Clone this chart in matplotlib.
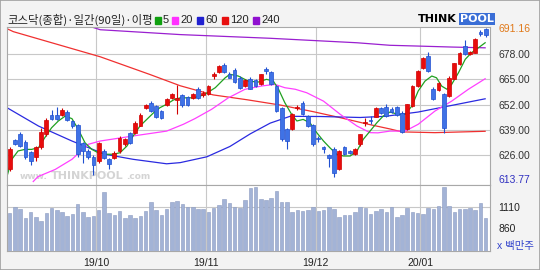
import matplotlib
matplotlib.use("Agg")
import matplotlib.pyplot as plt
import numpy as np
from matplotlib.patches import Rectangle

# daily candles (KOSDAQ composite)
opens = [619, 634, 637, 633, 627.6, 625, 630.4, 636.7, 646.5, 646.5,
         646.5, 648.2, 643.6, 641.4, 632.4, 628.2, 625.2, 623, 628.2, 623.9,
         624.7, 628.2, 631.6, 637.6, 637.6, 641, 650.4, 653, 651.3, 648.7,
         652, 655.5, 654.5, 656.7, 656, 655.5, 660, 657, 657.3, 666.7,
         668.8, 672.2, 667.6, 669.8, 665.8, 661.5, 665, 664.6, 662.4, 670.4,
         668.8, 661.5, 650.4, 639.3, 639.3, 650.3, 653, 646, 641.4, 635,
         630, 626, 629, 619, 630, 628.2, 626.5, 631.6, 642.5, 644.3,
         645.8, 650.4, 651, 650, 651, 647.8, 639.7, 651.3, 661.5, 671,
         677, 659.9, 659.5, 657.3, 656.4, 665, 672.7, 682.1, 678, 678.7,
         689.3, 691]
closes = [629.2, 632, 631, 625.2, 623, 630.4, 638, 644, 644.8, 644.8,
          649.2, 644, 641, 626.5, 628.2, 625.2, 620.8, 632.4, 624.7, 621.3,
          627.3, 635, 634.2, 632.4, 642.8, 646.5, 651.6, 648.7, 645.8, 645.3,
          655, 657.6, 655.3, 651.6, 652, 657.6, 655.5, 657.8, 661.5, 667.9,
          671.8, 668.8, 665.8, 663.6, 660.7, 664.6, 660.2, 661.5, 667.6, 669.3,
          662.4, 648.7, 634.2, 633.3, 647, 651, 647, 641, 631.6, 634.2,
          629, 624.7, 617, 628.2, 626.5, 627, 629, 636.7, 643.3, 643.8,
          650.4, 647.5, 646, 648, 646.5, 637.9, 652.2, 661.5, 669.3, 676.1,
          669.3, 654.7, 663, 640.1, 665.8, 673.2, 678.7, 677.9, 679, 685.9,
          688.1, 687.6]
highs = [630, 634.5, 638, 634, 628, 631, 640, 645, 649, 651,
         650.5, 649, 644, 642, 633, 629, 626, 633, 629, 624.5,
         628, 636, 635, 638, 643.5, 647.5, 652.5, 654, 652, 649.5,
         655.5, 658, 662, 657.5, 656.5, 658, 661, 659, 662, 669,
         672.5, 673.5, 669, 671, 666.5, 665, 666, 665, 668, 671.5,
         669.5, 662, 651, 640, 647.5, 652, 654, 646.5, 642, 636,
         631, 626.5, 630, 628.5, 631, 628.5, 629.5, 637, 645, 646,
         651, 651, 652.5, 651, 651.5, 648.5, 652.5, 662, 670, 676.5,
         679, 661, 663.5, 658, 666.5, 673.5, 679, 685, 679.5, 686,
         690.5, 691.2]
lows = [618, 631.5, 630, 624, 621, 623, 629, 636, 644, 644,
        646, 643.5, 640, 625, 622, 624, 616, 622, 624, 619,
        624, 627, 631, 632, 637, 641, 650, 648, 645, 644.5,
        651.5, 655, 647, 651, 651.5, 655, 655, 656, 657, 665,
        668.5, 668.5, 665.5, 663, 660, 661, 660, 661, 662, 668,
        662, 648, 633.5, 629, 639, 649, 646.5, 640.5, 631, 633,
        627, 620, 615, 618.5, 626, 626.5, 626, 631, 641, 642,
        645.5, 647, 645.5, 647.5, 646, 637.5, 639, 651, 661, 670.5,
        669, 654.5, 659, 637.5, 656, 665, 672.5, 677.5, 677.5, 678.5,
        687.5, 687]

# volume (백만주 scale)
volume = [1035, 1114, 1086, 983, 1054, 991, 943, 1043, 1094, 1074,
          1054, 1003, 1023, 1142, 1054, 991, 1003, 1074, 1285, 1035,
          1015, 1062, 983, 1015, 975, 1003, 1062, 1166, 1074, 1015,
          1086, 1166, 1181, 1146, 1114, 1114, 1086, 1086, 1046, 1094,
          1134, 1201, 1154, 1114, 1102, 1193, 1332, 1344, 1201, 1193,
          1221, 1301, 1174, 1174, 1046, 1074, 1066, 1074, 1106, 1066,
          1074, 1106, 1086, 991, 1015, 1015, 1046, 1106, 1094, 1027,
          1066, 1086, 1046, 1114, 995, 1015, 1094, 1046, 1035, 1027,
          1094, 1086, 1126, 1352, 1126, 1054, 1086, 1086, 1094, 1074,
          1162, 975]

# moving averages, sampled along the candle index
ma5_x = [-0.5, 0.4, 1.6, 2.9, 4.2, 5.5, 6.7, 8.0, 9.3, 10.6, 11.9, 13.1, 14.4, 15.7,
         16.9, 18.5, 19.8, 21.1, 22.4, 23.6, 24.9, 26.2, 27.5, 28.7, 30.0, 31.3,
         32.6, 33.8, 35.1, 36.4, 37.3, 39.3, 41.2, 42.1, 43.7, 45.6, 47.5, 49.1,
         50.4, 51.4, 52.6, 53.9, 54.9, 56.1, 57.4, 58.7, 60.0, 61.2, 62.5, 63.8,
         65.1, 66.4, 67.6, 68.9, 70.2, 71.4, 72.7, 74.3, 75.6, 76.9, 78.1, 79.4,
         80.7, 81.6, 82.6, 83.6, 84.5, 85.8, 87.1, 88.3, 89.6, 90.9]
ma5 = [615.3, 623.9, 628.2, 629, 629, 629.9, 635, 640.1, 643.6, 646.1, 644.8, 639.3, 632.4, 629,
       627.3, 626.5, 626.5, 627.3, 630.7, 635.9, 641, 644.4, 647.8, 650.4, 652.2, 654.4,
       655.5, 655.5, 655.5, 656.4, 657.3, 660.7, 665.8, 667.6, 666.7, 664.1, 663.6, 665,
       664.1, 659.9, 653, 647, 643.6, 644.4, 642.7, 637.6, 633.3, 629.9, 626.5, 625.6,
       625.6, 628.2, 634.2, 638.4, 642.7, 646.1, 648.2, 647, 647, 651.3, 659, 664.1,
       666.7, 665.8, 661.5, 659.9, 662.4, 668.4, 675.3, 678.7, 681.2, 683.8]
ma20_x = [4.5, 5.4, 8.7, 11.9, 15.0, 17.3, 23.6, 30.0, 33.2, 35.4, 38.6, 41.8, 45.0,
          48.2, 50.7, 52.6, 54.6, 56.8, 60.0, 63.2, 66.4, 68.9, 70.4, 72.7, 75.6,
          78.1, 81.3, 84.5, 87.7, 90.9]
ma20 = [612.5, 615, 618.7, 623.9, 631.6, 633.3, 635.9, 638.4, 641.9, 644.8, 649.6, 655.5, 659.9,
        661.6, 662.4, 660.7, 659.9, 658.1, 653.8, 647, 641, 637.6, 637.5, 638.4, 638.4,
        641.9, 648.7, 653.8, 659.9, 665.3]
ma60_x = [-0.5, 5.5, 11.9, 18.2, 23.6, 30.0, 32.6, 37.7, 42.1, 46.0, 49.8, 53.6,
          59.4, 67.0, 71.8, 78.1, 84.5, 90.9]
ma60 = [650.4, 641, 633.3, 626.5, 623.9, 621.6, 622.2, 625.2, 630.5, 637, 642.5, 646,
        645.9, 645.4, 646, 648.2, 651.6, 655]
ma120_x = [-0.5, 0.7, 17.3, 26.8, 32.6, 38.9, 45.4, 51.7, 58.0, 63.2, 68.4, 72.7,
           75.0, 81.3, 90.9]
ma120 = [691, 689.5, 676.6, 667.5, 661.7, 657, 654.5, 651.8, 648.4, 645.3, 642, 639.5,
         638, 637.6, 638.3]
ma240_x = [15.0, 17.3, 32.6, 49.8, 66.4, 72.7, 78.1, 84.5, 90.9]
ma240 = [692.5, 690.5, 688, 686.1, 683.8, 682.5, 682.1, 681.6, 681.2]

price_ticks = [626, 639, 652, 665, 678]
price_min, price_max = 613.77, 691.16
vol_ticks = [860, 1110]
month_first = [17, 38, 59, 79]
month_labels = ["19/10", "19/11", "19/12", "20/01"]

plt.rcParams['font.family'] = ['Liberation Sans', 'Noto Sans CJK KR', 'DejaVu Sans']

fig = plt.figure(figsize=(5.4, 2.7), dpi=100)
fig.patch.set_facecolor('#f3f3f3')
fig.patches.append(Rectangle((0, 0), 1, 1, transform=fig.transFigure, fill=False,
                             edgecolor='#a0a0a0', lw=1.2))

ax = fig.add_axes([7/540, 1-185/270, 483/540, 158/270])
axv = fig.add_axes([7/540, 1-251/270, 483/540, 66/270], sharex=ax)

x = np.arange(len(opens))
o = np.array(opens)
c = np.array(closes)
up = c >= o
body_col = np.where(up, '#e80c0c', '#3f72e6')
edge_col = np.where(up, '#d00000', '#1f4fd0')
month_pos = [m - 0.5 for m in month_first]

# price panel, faint watermark first
wm = dict(transform=ax.transAxes, fontweight='bold', color='#d4d4d4', zorder=0,
          family='DejaVu Sans', va='baseline')
ax.text((20-7)/483, 0.035, "www.", fontsize=6.5, **wm)
ax.text((51-7)/483, 0.035, "THINKPOOL", fontsize=8, **wm)
ax.text((126-7)/483, 0.035, ".com", fontsize=6.5, **wm)

ax.set_facecolor('white')
ax.plot(ma240_x, ma240, color='#9a1fd0', lw=0.9, zorder=2)
ax.plot(ma120_x, ma120, color='#f03030', lw=0.9, zorder=2)
ax.plot(ma60_x, ma60, color='#2a2ae0', lw=0.9, zorder=2)
ax.plot(ma20_x, ma20, color='#ff40ff', lw=0.9, zorder=2)
ax.plot(ma5_x, ma5, color='#20a020', lw=0.9, zorder=2)
ax.vlines(x, lows, highs, colors=edge_col, lw=0.8, zorder=3)
ax.bar(x, np.maximum(np.abs(c - o), 0.5), bottom=np.minimum(o, c), width=0.72,
       color=body_col, edgecolor=edge_col, lw=0.5, zorder=4)

ax.set_xlim(-0.52, 91.83)
ax.set_ylim(610.7, 691.9)
ax.set_yticks(price_ticks)
ax.set_yticklabels([f"{v:.2f}" for v in price_ticks])
ax.set_yticks([price_min, price_max], minor=True)
ax.set_yticklabels([f"{price_min:.2f}", f"{price_max:.2f}"], minor=True)
ax.yaxis.tick_right()
ax.tick_params(axis='y', which='both', length=0, pad=6, labelsize=7.5, labelcolor='#333333')
mins = ax.yaxis.get_minorticklabels()
mins[0].set_color('#3030c0')
mins[1].set_color('#e07818')
ax.set_xticks(month_pos)
ax.tick_params(axis='x', length=0, labelbottom=False)
ax.grid(True, which='major', color='#c8c8c8', lw=0.8)
ax.set_axisbelow(True)
for s in ax.spines.values():
    s.set_color('#a8a8a8')

# volume panel
axv.set_facecolor('white')
axv.bar(x, volume, width=0.68, color='#a3b3d6', edgecolor='#8a9ac0', lw=0.4, zorder=3)
axv.set_ylim(586, 1372)
axv.set_yticks(vol_ticks)
axv.yaxis.tick_right()
axv.tick_params(axis='y', length=0, pad=6, labelsize=7.5, labelcolor='#222222')
axv.axhline(vol_ticks[1], color='#c8c8c8', lw=0.8, zorder=1)
axv.set_xticks(month_pos)
axv.set_xticklabels(month_labels)
axv.tick_params(axis='x', length=0, pad=5, labelsize=7.5, labelcolor='#222222')
axv.grid(True, axis='x', color='#c8c8c8', lw=0.8, zorder=1)
axv.set_axisbelow(True)
for s in axv.spines.values():
    s.set_color('#a8a8a8')

fig.text(497/540, 1-246/270, "x 백만주", fontsize=7.5, color='#3344cc', va='center')

# title + legend
fig.text(7/540, 1-20/270, "코스닥(종합)·일간(90일)·이평", fontsize=8.2, color='#222222',
         va='center', family=['Noto Sans CJK KR', 'DejaVu Sans'])
legend = [("5", '#10a010', 155), ("20", '#ff30ff', 172), ("60", '#2020d0', 197),
          ("120", '#e81010', 222), ("240", '#9010d0', 253)]
for lab, col, px in legend:
    fig.patches.append(Rectangle((px/540, 1-24/270), 6/540, 7/270, transform=fig.transFigure,
                                 color=col))
    fig.text((px+8)/540, 1-20/270, lab, fontsize=8, color='#222222', va='center')

# logo
fig.text(457/540, 1-19/270, "THINK", fontsize=8, fontweight='bold', color='black',
         ha='right', va='center', family='DejaVu Sans')
fig.text(460/540, 1-19/270, "POOL", fontsize=8, fontweight='bold', color='white',
         ha='left', va='center', family='DejaVu Sans',
         bbox=dict(boxstyle='square,pad=0.12', fc='#3a6ed6', ec='none'))

fig.savefig("out.png", dpi=100, facecolor=fig.get_facecolor())
